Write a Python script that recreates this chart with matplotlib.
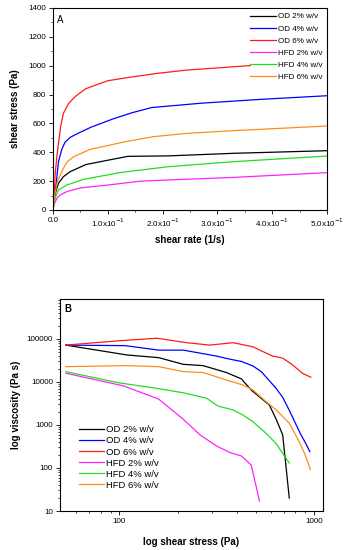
import numpy as np
import matplotlib
matplotlib.use('Agg')
import matplotlib.pyplot as plt
from matplotlib.ticker import FixedLocator, MultipleLocator, NullFormatter

plt.rcParams['font.family'] = ['Liberation Sans', 'DejaVu Sans']

####################
# DATA
####################

labels = ['OD 2% w/v', 'OD 4% w/v', 'OD 6% w/v',
          'HFD 2% w/v', 'HFD 4% w/v', 'HFD 6% w/v']
colors = ['black', '#0000ff', '#ff1a1a', '#ff22ff', '#22dd22', '#ff8c1a']

# Panel A: shear rate (1/s) vs shear stress (Pa)
a_od2_x = [0, 0.002, 0.0045, 0.01, 0.019, 0.031, 0.06, 0.1, 0.137, 0.21, 0.33, 0.5]
a_od2_y = [0, 80, 120, 185, 231, 265, 315, 345, 372, 375, 393, 411]
a_od4_x = [0, 0.003, 0.006, 0.010, 0.016, 0.022, 0.032, 0.045, 0.07, 0.11, 0.145, 0.18, 0.27, 0.38, 0.5]
a_od4_y = [0, 90, 190, 335, 420, 470, 505, 530, 575, 632, 675, 710, 740, 767, 792]
a_od6_x = [0, 0.002, 0.004, 0.007, 0.010, 0.014, 0.019, 0.028, 0.040, 0.060, 0.10, 0.135, 0.19, 0.245, 0.305, 0.36]
a_od6_y = [0, 100, 250, 370, 462, 580, 670, 735, 785, 841, 896, 917, 947, 970, 986, 1001]
a_hfd2_x = [0, 0.001, 0.003, 0.007, 0.013, 0.025, 0.05, 0.1, 0.16, 0.21, 0.33, 0.5]
a_hfd2_y = [0, 25, 46, 80, 104, 127, 153, 173, 200, 208, 226, 259]
a_hfd4_x = [0, 0.002, 0.005, 0.01, 0.025, 0.055, 0.095, 0.122, 0.16, 0.21, 0.33, 0.5]
a_hfd4_y = [0, 50, 92, 139, 173, 212, 240, 259, 277, 300, 335, 374]
a_hfd6_x = [0, 0.003, 0.008, 0.018, 0.025, 0.037, 0.0675, 0.104, 0.131, 0.183, 0.244, 0.33, 0.5]
a_hfd6_y = [0, 100, 196, 282, 330, 368, 420, 450, 473, 508, 531, 550, 582]

# Panel B: shear stress (Pa) vs viscosity (Pa s)
b_od2_x = [53, 109, 159, 213, 269, 354, 423, 475, 589, 638, 689, 745]
b_od2_y = [72000, 42500, 36800, 25700, 24000, 16600, 11800, 6500, 2900, 1360, 590, 20]
b_od4_x = [53, 107, 159, 213, 315, 368, 423, 485, 535, 638, 689, 745, 845, 900, 950]
b_od4_y = [72000, 70000, 55000, 55000, 40000, 34000, 30000, 23500, 17400, 7100, 4400, 2200, 660, 390, 240]
b_od6_x = [53, 100, 156, 221, 291, 383, 484, 545, 612, 689, 774, 871, 961]
b_od6_y = [72000, 91000, 104000, 82000, 72000, 82000, 66000, 51000, 40000, 36000, 25000, 15900, 12900]
b_hfd2_x = [53, 105, 159, 213, 259, 315, 368, 423, 475, 524]
b_hfd2_y = [16000, 8100, 4000, 1350, 590, 325, 230, 190, 117, 17]
b_hfd4_x = [53, 100, 156, 213, 280, 321, 383, 431, 485, 566, 638, 689, 745]
b_hfd4_y = [17400, 9500, 7100, 5600, 4200, 2750, 2240, 1700, 1190, 640, 370, 220, 130]
b_hfd6_x = [53, 107, 159, 213, 269, 354, 431, 485, 566, 638, 745, 838, 900, 955]
b_hfd6_y = [22700, 24000, 22700, 17400, 16600, 11100, 8500, 6500, 3500, 2240, 1100, 410, 200, 93]

a_series = [(a_od2_x, a_od2_y), (a_od4_x, a_od4_y), (a_od6_x, a_od6_y),
            (a_hfd2_x, a_hfd2_y), (a_hfd4_x, a_hfd4_y), (a_hfd6_x, a_hfd6_y)]
b_series = [(b_od2_x, b_od2_y), (b_od4_x, b_od4_y), (b_od6_x, b_od6_y),
            (b_hfd2_x, b_hfd2_y), (b_hfd4_x, b_hfd4_y), (b_hfd6_x, b_hfd6_y)]

a_xticks = [0, 0.1, 0.2, 0.3, 0.4, 0.5]
a_xticklabels = ['0.0', r'1.0x10$^{-1}$', r'2.0x10$^{-1}$', r'3.0x10$^{-1}$',
                 r'4.0x10$^{-1}$', r'5.0x10$^{-1}$']
b_yticks = [10, 100, 1000, 10000, 100000]
b_yticklabels = ['10', '100', '1000', '10000', '100000']

####################
# PLOT
####################

fig = plt.figure(figsize=(3.44, 5.5), dpi=100)
axA = fig.add_axes([53/344, 1-210/550, 274/344, 202/550])
axB = fig.add_axes([60/344, 1-511/550, 263/344, 212/550])

tick_fs = 5.8
label_fs = 7

for (x, y), c, lab in zip(a_series, colors, labels):
    axA.plot(x, y, color=c, lw=0.9, label=lab)
axA.set_xlim(0, 0.5)
axA.set_ylim(0, 1400)
axA.set_xticks(a_xticks)
axA.set_xticklabels(a_xticklabels)
axA.xaxis.set_minor_locator(MultipleLocator(0.05))
axA.yaxis.set_major_locator(MultipleLocator(200))
axA.yaxis.set_minor_locator(MultipleLocator(100))
axA.set_xlabel('shear rate (1/s)', fontsize=label_fs, fontweight='bold', labelpad=4)
axA.set_ylabel('shear stress (Pa)', fontsize=label_fs, fontweight='bold', labelpad=6)
axA.text(0.015, 0.965, 'A', transform=axA.transAxes, fontsize=7, va='top')
axA.legend(loc='upper right', frameon=False, fontsize=5.8, handlelength=3.2,
           handletextpad=0.2, labelspacing=0.55, borderaxespad=0.2)

for (x, y), c, lab in zip(b_series, colors, labels):
    axB.plot(x, y, color=c, lw=0.9, label=lab)
axB.set_xscale('log')
axB.set_yscale('log')
axB.set_xlim(49.5, 1110)
axB.set_ylim(10, 850000)
axB.set_xticks([100, 1000])
axB.set_xticklabels(['100', '1000'])
axB.xaxis.set_minor_locator(FixedLocator([60, 70, 80, 90, 200, 300, 400, 500, 600, 700, 800, 900]))
axB.xaxis.set_minor_formatter(NullFormatter())
axB.set_yticks(b_yticks)
axB.set_yticklabels(b_yticklabels)
minors = [m * 10**e for e in range(1, 6) for m in range(2, 10)]
axB.yaxis.set_minor_locator(FixedLocator(minors))
axB.yaxis.set_minor_formatter(NullFormatter())
axB.set_xlabel('log shear stress (Pa)', fontsize=label_fs, fontweight='bold', labelpad=9)
axB.set_ylabel('log viscosity (Pa s)', fontsize=label_fs, fontweight='bold', labelpad=4)
axB.text(0.015, 0.975, 'B', transform=axB.transAxes, fontsize=7, va='top', fontweight='bold')
axB.legend(loc='lower left', frameon=False, fontsize=6.8, handlelength=2.6,
           handletextpad=0.3, labelspacing=0.22, bbox_to_anchor=(0.04, 0.06))

for ax in (axA, axB):
    ax.tick_params(which='major', direction='out', length=3, width=0.6,
                   labelsize=tick_fs, pad=2)
    ax.tick_params(which='minor', direction='out', length=1.5, width=0.5)
    for s in ax.spines.values():
        s.set_linewidth(0.8)

fig.savefig('out.png', dpi=100)
